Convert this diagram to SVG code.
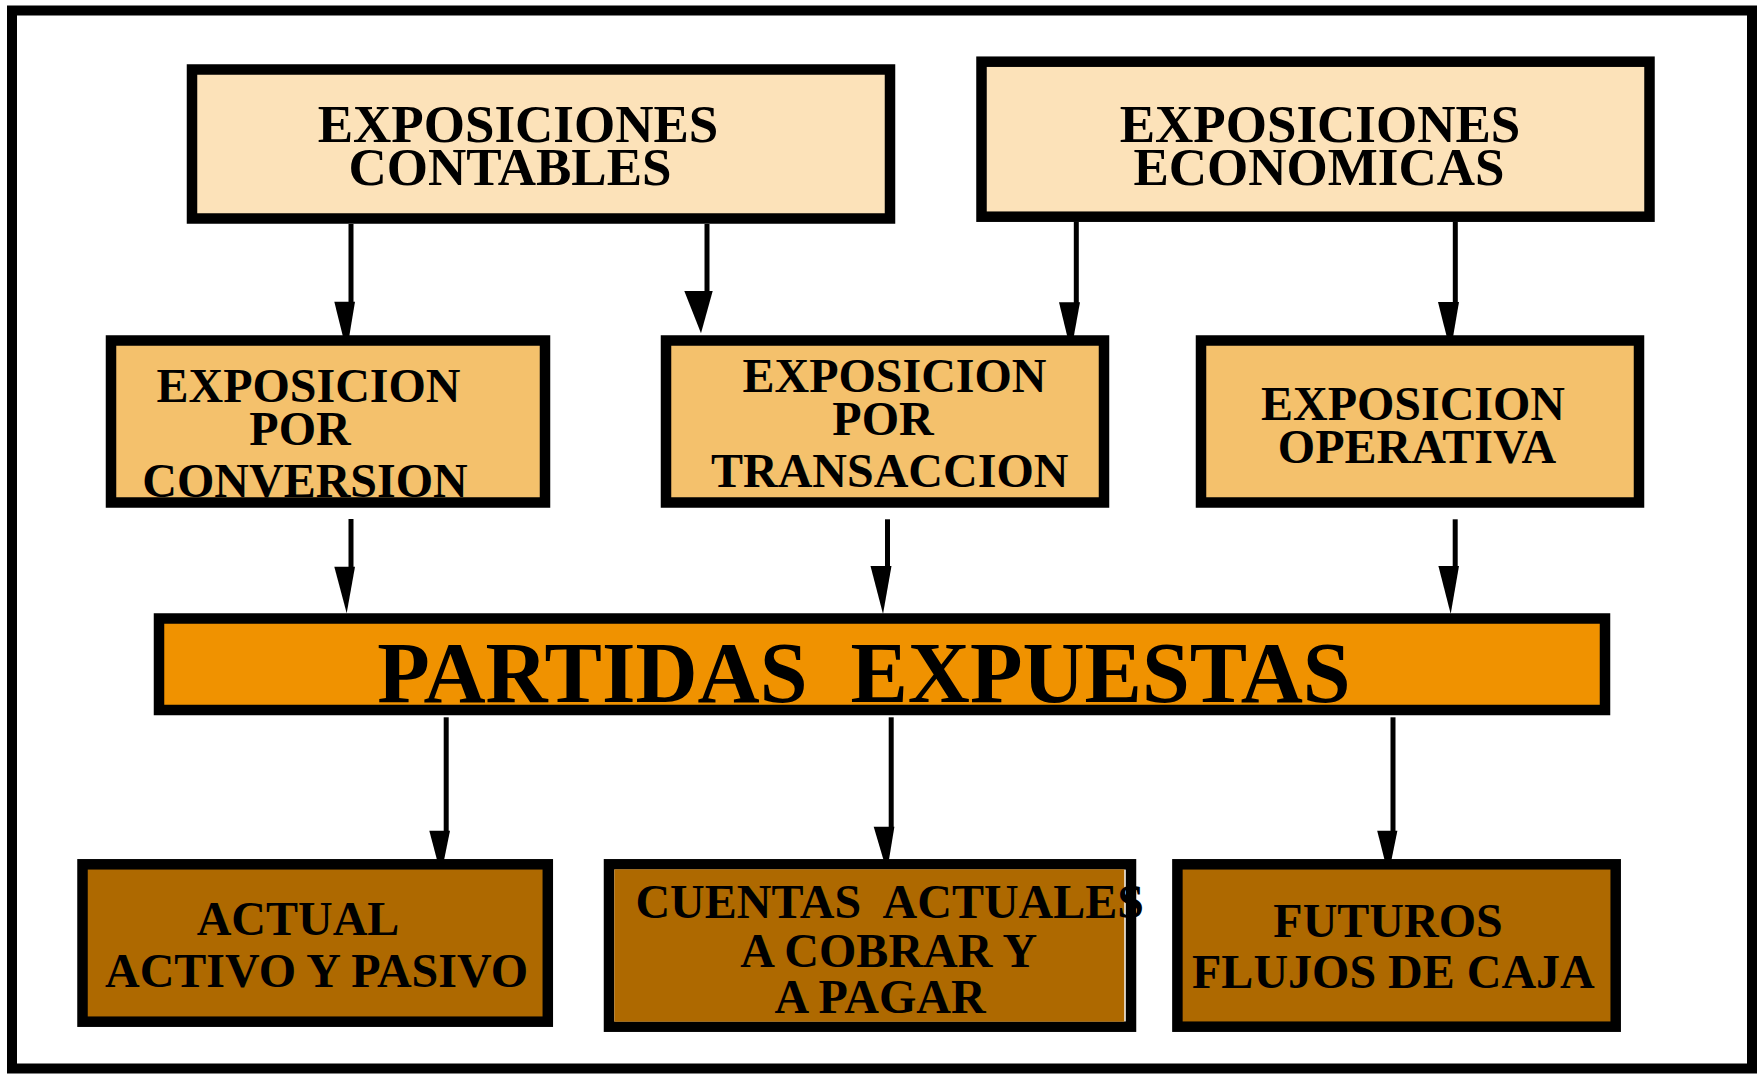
<svg xmlns="http://www.w3.org/2000/svg" width="1760" height="1075" viewBox="0 0 1760 1075">
<style>
.box{stroke:#000;stroke-width:10.5}
.top{fill:#FCE2B9}
.mid{fill:#F4C16C}
.bar{fill:#F09200}
.bot{fill:#AE6900}
text{font-family:"Liberation Serif","Times New Roman",serif;font-weight:bold;fill:#000;text-anchor:middle}
.t53{font-size:53px}
.t48{font-size:48px}
.t86{font-size:86px}
.ln{stroke:#000;stroke-width:5;fill:none}
.hd{fill:#000}
</style>
<rect x="0" y="0" width="1760" height="1075" fill="#fff"/>
<rect id="frame" x="12" y="10.5" width="1740" height="1058" fill="none" stroke="#000" stroke-width="10"/>

<g id="connectors">
  <line class="ln" x1="351" y1="224" x2="351" y2="303"/>
  <polygon class="hd" points="334.3,301.7 355,301.7 346.7,351.7"/>
  <line class="ln" x1="707" y1="224" x2="707" y2="292"/>
  <polygon class="hd" points="684.3,291 712.7,291 701,333.3"/>
  <line class="ln" x1="1076.3" y1="221.7" x2="1076.3" y2="303"/>
  <polygon class="hd" points="1059,302.3 1080,302.3 1071,351.7"/>
  <line class="ln" x1="1455.3" y1="221.7" x2="1455.3" y2="303"/>
  <polygon class="hd" points="1438,302 1459,302 1450.5,351.7"/>
  <line class="ln" x1="351" y1="519" x2="351" y2="568"/>
  <polygon class="hd" points="334.3,566.7 355,566.7 346.7,613.3"/>
  <line class="ln" x1="887.5" y1="519.3" x2="887.5" y2="567"/>
  <polygon class="hd" points="870.5,566 891.5,566 883,614"/>
  <line class="ln" x1="1455.2" y1="519.3" x2="1455.2" y2="567"/>
  <polygon class="hd" points="1438.4,566 1459,566 1450.7,614"/>
  <line class="ln" x1="446.2" y1="717.3" x2="446.2" y2="832"/>
  <polygon class="hd" points="429.3,830.7 450,830.7 441,875"/>
  <line class="ln" x1="891.2" y1="717.3" x2="891.2" y2="828"/>
  <polygon class="hd" points="873.7,826.7 894.4,826.7 887,871.7"/>
  <line class="ln" x1="1393" y1="717.3" x2="1393" y2="832"/>
  <polygon class="hd" points="1377.2,830.7 1397.4,830.7 1388.4,875"/>
</g>

<g id="contables">
  <rect class="box top" x="192" y="69.5" width="698" height="149"/>
  <text class="t53" x="518" y="141.7">EXPOSICIONES</text>
  <text class="t53" x="510" y="185">CONTABLES</text>
</g>

<g id="economicas">
  <rect class="box top" x="981.5" y="61.7" width="668" height="155"/>
  <text class="t53" x="1320" y="141.7">EXPOSICIONES</text>
  <text class="t53" x="1319" y="185">ECONOMICAS</text>
</g>

<g id="conversion">
  <rect class="box mid" x="111" y="340.5" width="434" height="162"/>
  <text class="t48" x="308.5" y="401.7">EXPOSICION</text>
  <text class="t48" x="300" y="445">POR</text>
  <text class="t48" x="305" y="496.7">CONVERSION</text>
</g>

<g id="transaccion">
  <rect class="box mid" x="666" y="340.5" width="438" height="162"/>
  <text class="t48" x="894.5" y="391.7">EXPOSICION</text>
  <text class="t48" x="883" y="435">POR</text>
  <text class="t48" x="889.7" y="486.7">TRANSACCION</text>
</g>

<g id="operativa">
  <rect class="box mid" x="1201" y="340.5" width="438" height="162"/>
  <text class="t48" x="1413" y="420">EXPOSICION</text>
  <text class="t48" x="1417" y="462.7">OPERATIVA</text>
</g>

<g id="partidas">
  <rect class="box bar" x="159" y="618.5" width="1446" height="91.5"/>
  <text class="t86" x="864" y="701.7" xml:space="preserve">PARTIDAS  EXPUESTAS</text>
</g>

<g id="actual">
  <rect class="box bot" x="82.5" y="864.3" width="465.3" height="157.4"/>
  <text class="t48" x="298" y="935">ACTUAL</text>
  <text class="t48" x="316.5" y="986.7">ACTIVO Y PASIVO</text>
</g>

<g id="cuentas">
  <rect class="box" x="609" y="864.3" width="522" height="162.4" fill="#fff"/>
  <rect class="bot" x="614.3" y="869.3" width="510" height="152.4"/>
  <text class="t48" x="889.7" y="918.3" xml:space="preserve">CUENTAS  ACTUALES</text>
  <text class="t48" x="888.8" y="966.7">A COBRAR Y</text>
  <text class="t48" x="880" y="1013.3">A PAGAR</text>
</g>

<g id="futuros">
  <rect class="box bot" x="1177.4" y="864.3" width="438.3" height="162.4"/>
  <text class="t48" x="1388" y="936.7">FUTUROS</text>
  <text class="t48" x="1393.4" y="988.3">FLUJOS DE CAJA</text>
</g>
</svg>
